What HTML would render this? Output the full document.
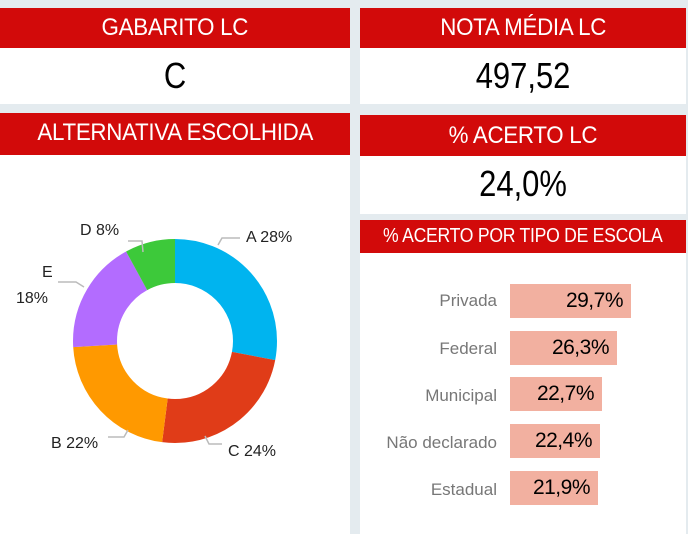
<!DOCTYPE html>
<html><head><meta charset="utf-8"><style>
body{margin:0;width:688px;height:534px;background:#e4ebef;position:relative;overflow:hidden;font-family:"Liberation Sans",sans-serif}
.p{position:absolute;background:#fff}
.h{position:absolute;background:#d20a0a;color:#fff;text-align:center;font-size:24px;letter-spacing:-0.3px;white-space:nowrap;overflow:hidden}
.v{position:absolute;text-align:center;font-size:36px;color:#000}
.n{display:inline-block;transform:scaleX(0.93)}
.vn{display:inline-block;transform:scaleX(0.86)}
.lab{position:absolute;font-size:17px;color:#777;text-align:right;width:200px}
.bar{position:absolute;background:#f2b0a0;height:34px;left:510px;font-size:21px;text-align:right;box-sizing:border-box;padding-right:8px;line-height:34px;letter-spacing:-0.5px}
.t{position:absolute;font-size:16px;color:#222}
</style></head><body>
<div class="p" style="left:0;top:48px;width:350px;height:56px"></div>
<div class="h" style="left:0;top:8px;width:350px;height:40px;line-height:40px"><span class="n">GABARITO LC</span></div>
<div class="v" style="left:0;top:52px;width:350px;line-height:48px"><span class="vn">C</span></div>

<div class="p" style="left:360px;top:48px;width:326px;height:56px"></div>
<div class="h" style="left:360px;top:8px;width:326px;height:40px;line-height:40px"><span class="n">NOTA MÉDIA LC</span></div>
<div class="v" style="left:360px;top:52px;width:326px;line-height:48px"><span class="vn">497,52</span></div>

<div class="p" style="left:0;top:155px;width:350px;height:379px"></div>
<div class="h" style="left:0;top:113px;width:350px;height:42px;line-height:40px"><span class="n">ALTERNATIVA ESCOLHIDA</span></div>

<div class="p" style="left:360px;top:156px;width:326px;height:58px"></div>
<div class="h" style="left:360px;top:115px;width:326px;height:41px;line-height:41px"><span class="n">% ACERTO LC</span></div>
<div class="v" style="left:360px;top:160px;width:326px;line-height:48px"><span class="vn">24,0%</span></div>

<div class="p" style="left:360px;top:253px;width:326px;height:281px"></div>
<div class="h" style="left:360px;top:220px;width:326px;height:33px;line-height:33px;font-size:20px"><span class="n" style="transform:scaleX(0.88)">% ACERTO POR TIPO DE ESCOLA</span></div>

<svg style="position:absolute;left:0;top:0" width="688" height="534">
<g transform="rotate(-90 175 341)" fill="none" stroke-width="44">
<circle cx="175" cy="341" r="80" stroke="#00b4ef" stroke-dasharray="140.74 502.65" stroke-dashoffset="0"/>
<circle cx="175" cy="341" r="80" stroke="#e03c18" stroke-dasharray="120.64 502.65" stroke-dashoffset="-140.74"/>
<circle cx="175" cy="341" r="80" stroke="#ff9900" stroke-dasharray="110.58 502.65" stroke-dashoffset="-261.38"/>
<circle cx="175" cy="341" r="80" stroke="#b36cff" stroke-dasharray="90.48 502.65" stroke-dashoffset="-371.96"/>
<circle cx="175" cy="341" r="80" stroke="#3dc93a" stroke-dasharray="40.21 502.65" stroke-dashoffset="-462.44"/>
</g>
<g fill="none" stroke="#bbb" stroke-width="1.5">
<polyline points="218,245 222,238 240,238"/>
<polyline points="205,436 209,444 222,444"/>
<polyline points="128,430 124,437 108,437"/>
<polyline points="84,287 76,282 58,282"/>
<polyline points="143,252 142,241 128,241"/>
</g>
</svg>
<div class="t" style="left:246px;top:229px">A 28%</div>
<div class="t" style="left:228px;top:443px">C 24%</div>
<div class="t" style="left:51px;top:435px">B 22%</div>
<div class="t" style="left:42px;top:264px">E</div>
<div class="t" style="left:16px;top:290px">18%</div>
<div class="t" style="left:80px;top:222px">D 8%</div>

<div class="lab" style="left:297px;top:291px">Privada</div>
<div class="bar" style="top:284px;width:121px">29,7%</div>
<div class="lab" style="left:297px;top:339px">Federal</div>
<div class="bar" style="top:331px;width:107px">26,3%</div>
<div class="lab" style="left:297px;top:386px">Municipal</div>
<div class="bar" style="top:377px;width:92px">22,7%</div>
<div class="lab" style="left:297px;top:433px">Não declarado</div>
<div class="bar" style="top:424px;width:90px">22,4%</div>
<div class="lab" style="left:297px;top:480px">Estadual</div>
<div class="bar" style="top:471px;width:88px">21,9%</div>
</body></html>
